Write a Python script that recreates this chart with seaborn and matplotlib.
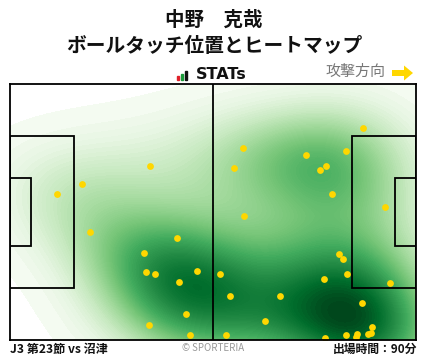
import matplotlib
matplotlib.use("Agg")
import matplotlib.pyplot as plt
from matplotlib.patches import Rectangle, FancyArrow
import numpy as np
import pandas as pd
import seaborn as sns

# Ball touch positions in metres (x: 0-105 own goal -> attack, y: 0-68 bottom -> top)
touch_x = [36.2, 18.6, 12.2, 91.3, 60.3, 57.9, 76.5, 86.9, 81.7, 80.2,
           83.3, 97.0, 60.5, 20.7, 43.2, 34.7, 35.2, 37.5, 48.4, 43.7,
           45.5, 35.9, 46.5, 54.3, 56.9, 69.8, 65.9, 55.9, 85.1, 86.1,
           87.2, 81.2, 98.3, 91.0, 93.6, 93.4, 92.6, 89.7, 89.5, 86.9, 81.5]
touch_y = [46.2, 41.4, 38.8, 56.3, 51.0, 45.7, 49.1, 50.2, 46.2, 45.2,
           38.8, 35.3, 32.9, 28.7, 27.1, 23.1, 18.1, 17.5, 18.3, 15.4,
           6.9, 4.0, 1.3, 17.5, 11.7, 11.7, 5.0, 1.3, 22.8, 21.5,
           17.5, 16.2, 15.1, 9.8, 3.5, 1.9, 1.6, 1.6, 0.8, 1.3, 0.5]

player_name = "中野　克哉"
chart_title = "ボールタッチ位置とヒートマップ"
match_label = "J3 第23節 vs 沼津"
minutes_label = "出場時間：90分"

PITCH_L, PITCH_W = 105, 68

sns.set_style("white")
plt.rcParams["font.family"] = ["Noto Sans CJK JP", "DejaVu Sans"]

df = pd.DataFrame({"x": touch_x, "y": touch_y})

fig = plt.figure(figsize=(4.28, 3.59), dpi=100)
W, H = 428, 359

# pitch axes (pixel box 10..416 x 84..340)
ax = fig.add_axes([10 / W, (H - 340) / H, 406 / W, 256 / H])
sns.kdeplot(data=df, x="x", y="y", fill=True, cmap="Greens", levels=100,
            thresh=0.003, bw_adjust=1.1, gridsize=150,
            clip=((0, PITCH_L), (0, PITCH_W)), ax=ax, zorder=1)
sns.scatterplot(data=df, x="x", y="y", color="#ffd700", s=24, linewidth=0,
                ax=ax, zorder=4)

line_kw = dict(fill=False, edgecolor="black", linewidth=1.3, zorder=3)
# penalty areas and goal areas
ax.add_patch(Rectangle((0, 13.85), 16.5, 40.3, **line_kw))
ax.add_patch(Rectangle((PITCH_L - 16.5, 13.85), 16.5, 40.3, **line_kw))
ax.add_patch(Rectangle((0, 24.85), 5.5, 18.3, **line_kw))
ax.add_patch(Rectangle((PITCH_L - 5.5, 24.85), 5.5, 18.3, **line_kw))
ax.plot([PITCH_L / 2, PITCH_L / 2], [0, PITCH_W], color="black", lw=1.3, zorder=3)

ax.set_xlim(0, PITCH_L)
ax.set_ylim(0, PITCH_W)
ax.set_xticks([])
ax.set_yticks([])
ax.set_xlabel("")
ax.set_ylabel("")
for sp in ax.spines.values():
    sp.set_color("black")
    sp.set_linewidth(1.3)
    sp.set_zorder(5)

# overlay for header / footer in pixel coordinates
ov = fig.add_axes([0, 0, 1, 1], zorder=-1)
ov.set_xlim(0, W)
ov.set_ylim(H, 0)
ov.axis("off")

ov.text(214, 20, player_name, ha="center", va="center", fontsize=14,
        fontweight="bold", color="#111111")
ov.text(214, 46, chart_title, ha="center", va="center", fontsize=14.2,
        fontweight="bold", color="#111111")

# STATs logo
ov.add_patch(Rectangle((177, 76), 2.5, 3.5, color="#e0202a"))
ov.add_patch(Rectangle((181, 74), 2.5, 5.5, color="#1a9a3a"))
ov.add_patch(Rectangle((185, 71), 2.5, 8.5, color="#111111"))
ov.text(196, 74.5, "STATs", ha="left", va="center", fontsize=11.5,
        fontweight="bold", color="#111111", family=["DejaVu Sans"])

ov.text(385, 72, "攻撃方向", ha="right", va="center", fontsize=10.8,
        color="#777777")
ov.add_patch(FancyArrow(392, 73, 12, 0, width=6, head_width=15,
                        head_length=9, length_includes_head=False,
                        color="#ffd700", linewidth=0))

ov.text(10, 349, match_label, ha="left", va="center", fontsize=8.7,
        fontweight="bold", color="#111111")
ov.text(213, 348, "© SPORTERIA", ha="center", va="center", fontsize=7,
        color="#999999")
ov.text(417, 349, minutes_label, ha="right", va="center", fontsize=8.5,
        fontweight="bold", color="#111111")

fig.savefig("out.png", dpi=100)
